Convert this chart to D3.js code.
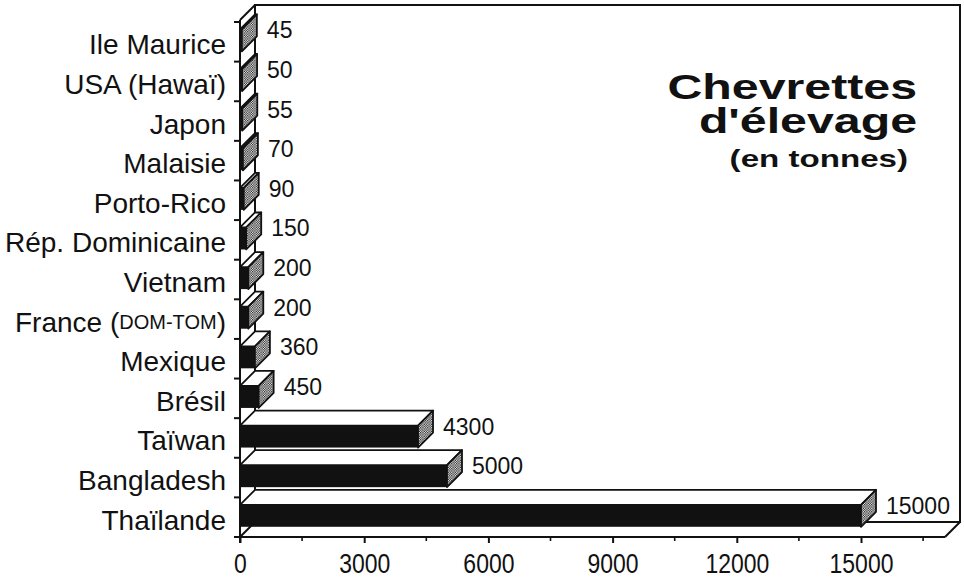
<!DOCTYPE html>
<html>
<head>
<meta charset="utf-8">
<script src="https://cdn.jsdelivr.net/npm/d3@7"></script>
<style>
  html, body { margin: 0; padding: 0; background: #fff; }
  svg { display: block; }
  text { font-family: "Liberation Sans", Arial, Helvetica, sans-serif; fill: #111; }
</style>
</head>
<body>
<svg id="chart" width="964" height="580"></svg>
<script>
// Farmed shrimp production by country (tonnes)
const countries = ["Thaïlande", "Bangladesh", "Taïwan", "Brésil", "Mexique",
  "France (DOM-TOM)", "Vietnam", "Rép. Dominicaine", "Porto-Rico", "Malaisie",
  "Japon", "USA (Hawaï)", "Ile Maurice"];
const tonnes = [15000, 5000, 4300, 450, 360, 200, 200, 150, 90, 70, 55, 50, 45];
const majorTicks = [0, 3000, 6000, 9000, 12000, 15000];
const minorTicks = [1500, 4500, 7500, 10500, 13500, 16500];
const titleLines = ["Chevrettes", "d'élevage"];
const subtitle = "(en tonnes)";

const svg = d3.select("#chart");
const depth = 15;            // oblique depth of the 3D box
const plotLeft = 240, plotRight = 945, plotTop = 22, plotBottom = 537;

const x = d3.scaleLinear().domain([0, 15000]).range([plotLeft, 861]);
const y = d3.scaleBand().domain(countries.slice().reverse()).range([plotTop, plotBottom]).paddingInner(0);

const rows = countries.map((c, i) => ({ country: c, value: tonnes[i] }));

// dotted screen used on the bar ends
const defs = svg.append("defs");
const pat = defs.append("pattern").attr("id", "screen")
  .attr("width", 2.4).attr("height", 2.4).attr("patternUnits", "userSpaceOnUse");
pat.append("rect").attr("width", 2.4).attr("height", 2.4).attr("fill", "#fff");
pat.append("rect").attr("x", 0).attr("y", 0).attr("width", 1.2).attr("height", 1.2).attr("fill", "#111");
pat.append("rect").attr("x", 1.2).attr("y", 1.2).attr("width", 1.2).attr("height", 1.2).attr("fill", "#111");

const frame = svg.append("g").attr("fill", "none").attr("stroke", "#111").attr("stroke-width", 2);
// back wall and floor outline
frame.append("path").attr("d",
  `M${plotLeft + depth},${plotBottom - depth} V5 H960 V${plotBottom - depth} H${plotLeft + depth}`);
frame.append("path").attr("d",
  `M${plotLeft},${plotTop - 2} L${plotLeft + depth},5`);
frame.append("path").attr("d",
  `M${plotLeft},${plotBottom} L${plotLeft + depth},${plotBottom - depth} M${plotRight},${plotBottom} L960,${plotBottom - depth}`);

// bars
const bars = svg.append("g").selectAll("g").data(rows).join("g");
const frontH = 22, inset = 7.4;
bars.each(function (d) {
  const g = d3.select(this);
  const x0 = x(0), x1 = x(d.value), yf = y(d.country) + inset;
  g.append("path")
    .attr("d", `M${x0},${yf} L${x1},${yf} L${x1 + depth},${yf - depth} L${x0 + depth},${yf - depth} Z`)
    .attr("fill", "#fff").attr("stroke", "#111").attr("stroke-width", 1.8).attr("stroke-linejoin", "round");
  g.append("rect")
    .attr("x", x0).attr("y", yf).attr("width", Math.max(1.5, x1 - x0)).attr("height", frontH)
    .attr("fill", "#111");
  g.append("path")
    .attr("d", `M${x1},${yf} L${x1 + depth},${yf - depth} L${x1 + depth},${yf + frontH - depth} L${x1},${yf + frontH} Z`)
    .attr("fill", "url(#screen)").attr("stroke", "#111").attr("stroke-width", 1.8).attr("stroke-linejoin", "round");
  g.append("text")
    .attr("x", x1 + depth + 10).attr("y", yf + 1)
    .attr("dominant-baseline", "central")
    .attr("font-size", 23)
    .text(d3.format("d")(d.value));
});

// value axis along the front floor edge
const xAxis = d3.axisBottom(x).tickValues(majorTicks).tickSize(6).tickFormat(d3.format("d"));
const ax = svg.append("g").attr("transform", `translate(0,${plotBottom})`).call(xAxis);
ax.select(".domain").remove();
ax.selectAll(".tick line").attr("stroke", "#111").attr("stroke-width", 2);
ax.selectAll(".tick text")
  .attr("font-size", 28).attr("font-family", "Liberation Sans, Arial, sans-serif").attr("fill", "#111")
  .attr("y", 0).attr("dy", null)
  .attr("transform", "translate(0,36) scale(0.82,1)")
  .attr("dominant-baseline", "auto");
svg.append("g").selectAll("line").data(minorTicks).join("line")
  .attr("x1", d => x(d)).attr("x2", d => x(d))
  .attr("y1", plotBottom).attr("y2", plotBottom + 4)
  .attr("stroke", "#111").attr("stroke-width", 1.6);
svg.append("line").attr("x1", plotLeft).attr("x2", plotRight).attr("y1", plotBottom).attr("y2", plotBottom)
  .attr("stroke", "#111").attr("stroke-width", 2);

// category axis
svg.append("line").attr("x1", plotLeft).attr("x2", plotLeft).attr("y1", plotTop - 2).attr("y2", plotBottom + 6)
  .attr("stroke", "#111").attr("stroke-width", 2);
const bounds = d3.range(countries.length + 1).map(i => plotTop + i * y.step());
svg.append("g").selectAll("line").data(bounds).join("line")
  .attr("x1", plotLeft - 6).attr("x2", plotLeft).attr("y1", d => d).attr("y2", d => d)
  .attr("stroke", "#111").attr("stroke-width", 2);

const labels = svg.append("g").selectAll("text").data(countries).join("text")
  .attr("x", 226).attr("y", d => y(d) + y.bandwidth() / 2 + 3)
  .attr("text-anchor", "end").attr("dominant-baseline", "central")
  .attr("font-size", 28);
labels.each(function (d) {
  const t = d3.select(this);
  const m = d.match(/^(.*?)(\(([^)]*)\))$/);
  if (m && m[3] === m[3].toUpperCase()) {
    t.append("tspan").text(m[1] + "(");
    t.append("tspan").attr("font-size", 20).text(m[3]);
    t.append("tspan").text(")");
  } else {
    t.text(d);
  }
});

// title block
const title = svg.append("g");
title.selectAll("text.t").data(titleLines).join("text").attr("class", "t")
  .attr("transform", (d, i) => `translate(917,${99 + i * 34}) scale(1.38,1)`)
  .attr("text-anchor", "end").attr("font-weight", "bold").attr("font-size", 35)
  .text(d => d);
title.append("text")
  .attr("transform", "translate(908,167) scale(1.38,1)")
  .attr("text-anchor", "end").attr("font-weight", "bold").attr("font-size", 24)
  .text(subtitle);
</script>
</body>
</html>
